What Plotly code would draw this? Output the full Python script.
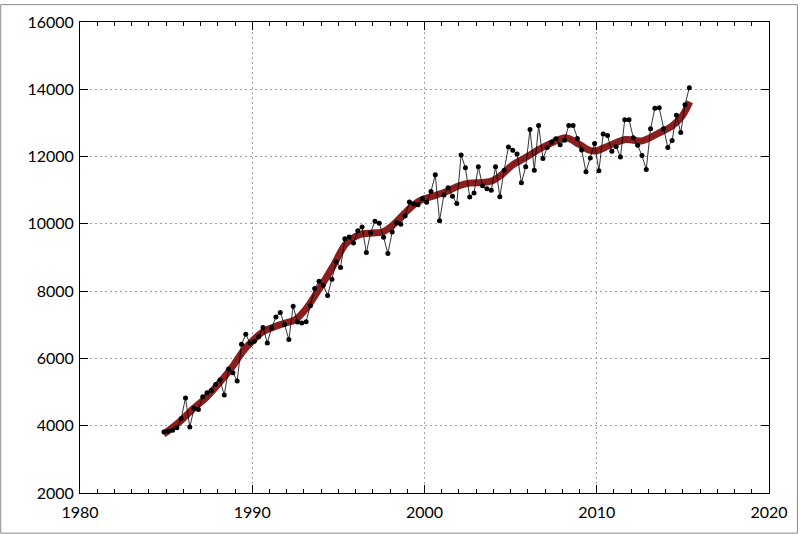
import pandas as pd
import plotly.graph_objects as go

# Quarterly observations, 1984Q4 .. 2015Q2
quarters = pd.period_range("1984Q4", "2015Q2", freq="Q")
values = [
    3812, 3832, 3862, 3941, 4215, 4824, 3959, 4518, 4479, 4862,
    4979, 5047, 5224, 5362, 4912, 5685, 5576, 5332, 6421, 6715,
    6450, 6509, 6647, 6921, 6459, 6912, 7235, 7362, 7009, 6559,
    7550, 7085, 7050, 7089, 7564, 8077, 8297, 8178, 7869, 8356,
    8869, 8700, 9561, 9611, 9433, 9798, 9908, 9145, 9739, 10077,
    10018, 9602, 9116, 9760, 10036, 9988, 10234, 10650, 10590, 10570,
    10750, 10640, 10960, 11459, 10095, 10857, 11075, 10818, 10603, 12050,
    11666, 10798, 10916, 11695, 11134, 11046, 10996, 11695, 10809, 11595,
    12287, 12187, 12080, 11223, 11695, 12807, 11595, 12925, 11941, 12266,
    12422, 12532, 12348, 12484, 12925, 12925, 12534, 12195, 11549, 11961,
    12389, 11578, 12673, 12624, 12155, 12302, 11988, 13092, 13092, 12556,
    12340, 12029, 11619, 12829, 13435, 13452, 12829, 12272, 12477, 13230,
    12712, 13540, 14049,
]

# Smooth trend at these dates
trend_years = [
    1984.85, 1985.5, 1986.0, 1986.56, 1987.33, 1988.11, 1988.88, 1989.46,
    1990.03, 1990.61, 1991.19, 1991.97, 1992.5, 1993.13, 1993.90, 1994.67,
    1995.45, 1996.22, 1996.99, 1997.57, 1998.15, 1998.92, 1999.69, 2000.66,
    2001.24, 2002.01, 2002.59, 2003.36, 2003.94, 2004.52, 2005.10, 2005.87,
    2006.65, 2007.42, 2008.2, 2008.96, 2009.54, 2009.93, 2010.70, 2011.67,
    2012.63, 2013.60, 2014.37, 2014.95, 2015.40,
]
trend_values = [
    3750, 4000, 4220, 4500, 4841, 5282, 5774, 6215,
    6529, 6790, 6921, 7060, 7150, 7480, 8077, 8721,
    9412, 9679, 9730, 9760, 9958, 10353, 10680, 10850,
    10957, 11134, 11211, 11232, 11282, 11477, 11743, 11970,
    12216, 12414, 12560, 12369, 12195, 12165, 12322, 12505,
    12468, 12700, 12908, 13200, 13630,
]

x_ticks = [1980, 1990, 2000, 2010, 2020]
y_ticks = [2000, 4000, 6000, 8000, 10000, 12000, 14000, 16000]

years = [p.year + (p.quarter - 1) * 0.25 + 0.125 for p in quarters]

fig = go.Figure()
fig.add_trace(go.Scatter(
    x=trend_years, y=trend_values, mode="lines",
    line=dict(color="#8b1e1e", width=7, shape="spline", smoothing=1.0),
    hoverinfo="skip", showlegend=False,
))
fig.add_trace(go.Scatter(
    x=years, y=values, mode="lines+markers",
    line=dict(color="black", width=0.8),
    marker=dict(color="black", size=5),
    showlegend=False,
))

L, R, T, B = 80, 29, 18, 41
W, H = 800, 534
pw, ph = W - L - R, H - T - B

axis_common = dict(
    showline=True, linecolor="black", linewidth=1, mirror="allticks",
    ticks="inside", ticklen=8, tickcolor="black", tickwidth=1,
    showgrid=True, gridcolor="#a0a0a0", gridwidth=1, griddash="2px,3px",
    zeroline=False, tickfont=dict(family="Lato", size=16, color="black"),
)

fig.update_layout(
    width=W, height=H,
    margin=dict(l=L, r=R, t=T, b=B),
    paper_bgcolor="white", plot_bgcolor="white",
    xaxis=dict(range=[1980, 2020], tickvals=x_ticks, ticklabelstandoff=5,
               minor=dict(dtick=1, ticks="inside", ticklen=4, tickcolor="black", showgrid=False),
               **axis_common),
    yaxis=dict(range=[2000, 16000], tickvals=y_ticks, tickformat="d",
               ticklabelstandoff=2, **axis_common),
    shapes=[dict(
        type="rect", xref="paper", yref="paper",
        x0=(0.5 - L) / pw, x1=(W - 0.5 - L) / pw,
        y0=(T + ph - (H - 0.5)) / ph, y1=(T + ph - 0.5) / ph,
        line=dict(color="#888888", width=1), layer="above",
    )],
)

fig.write_html("out.html")
